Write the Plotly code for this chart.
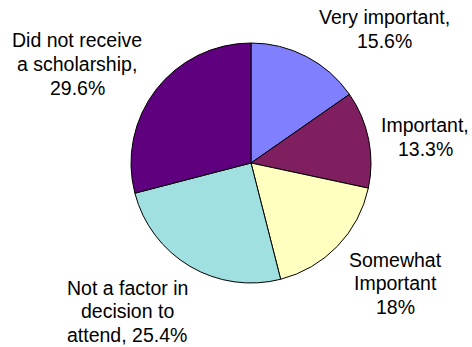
import plotly.graph_objects as go

# Share of respondents by how the scholarship influenced the decision to attend
categories = [
    "Very important",
    "Important",
    "Somewhat Important",
    "Not a factor in decision to attend",
    "Did not receive a scholarship",
]
values = [15.6, 13.3, 18, 25.4, 29.6]
colors = ["#8080FF", "#7F1F5F", "#FFFFC0", "#A0E0E0", "#5F007F"]

# Label wording with line breaks; the value is filled in from `values`
label_templates = [
    "Very important,<br>{}%",
    "Important,<br>{}%",
    "Somewhat<br>Important<br>{}%",
    "Not a factor in<br>decision to<br>attend, {}%",
    "Did not receive<br>a scholarship,<br>{}%",
]
# Label anchor points (pixel centre of each text block)
label_px = [(384, 29), (425, 137), (395, 283), (127, 311), (77, 64)]
line_gap = 23.5

W, H = 472, 347
cx, cy, r = 251, 163, 120

fig = go.Figure(
    go.Pie(
        labels=categories,
        values=values,
        sort=False,
        direction="clockwise",
        rotation=0,
        textinfo="none",
        hoverinfo="label+percent",
        marker=dict(colors=colors, line=dict(color="#000000", width=1)),
        domain=dict(
            x=[(cx - r) / W, (cx + r) / W],
            y=[(H - cy - r) / H, (H - cy + r) / H],
        ),
        showlegend=False,
    )
)

# Each label line is its own annotation so the line spacing stays tight
for tmpl, v, (px, py) in zip(label_templates, values, label_px):
    lines = tmpl.format(f"{v:g}").split("<br>")
    n = len(lines)
    for i, line in enumerate(lines):
        ly = py + (i - (n - 1) / 2) * line_gap
        fig.add_annotation(
            text=line,
            x=px / W,
            y=1 - ly / H,
            xref="paper",
            yref="paper",
            xanchor="center",
            yanchor="middle",
            align="center",
            showarrow=False,
            font=dict(family="Liberation Sans, Arial, sans-serif", size=19.5, color="#000000"),
        )

fig.update_layout(
    width=W,
    height=H,
    margin=dict(l=0, r=0, t=0, b=0),
    paper_bgcolor="#FFFFFF",
    plot_bgcolor="#FFFFFF",
)

fig.write_html("out.html")
